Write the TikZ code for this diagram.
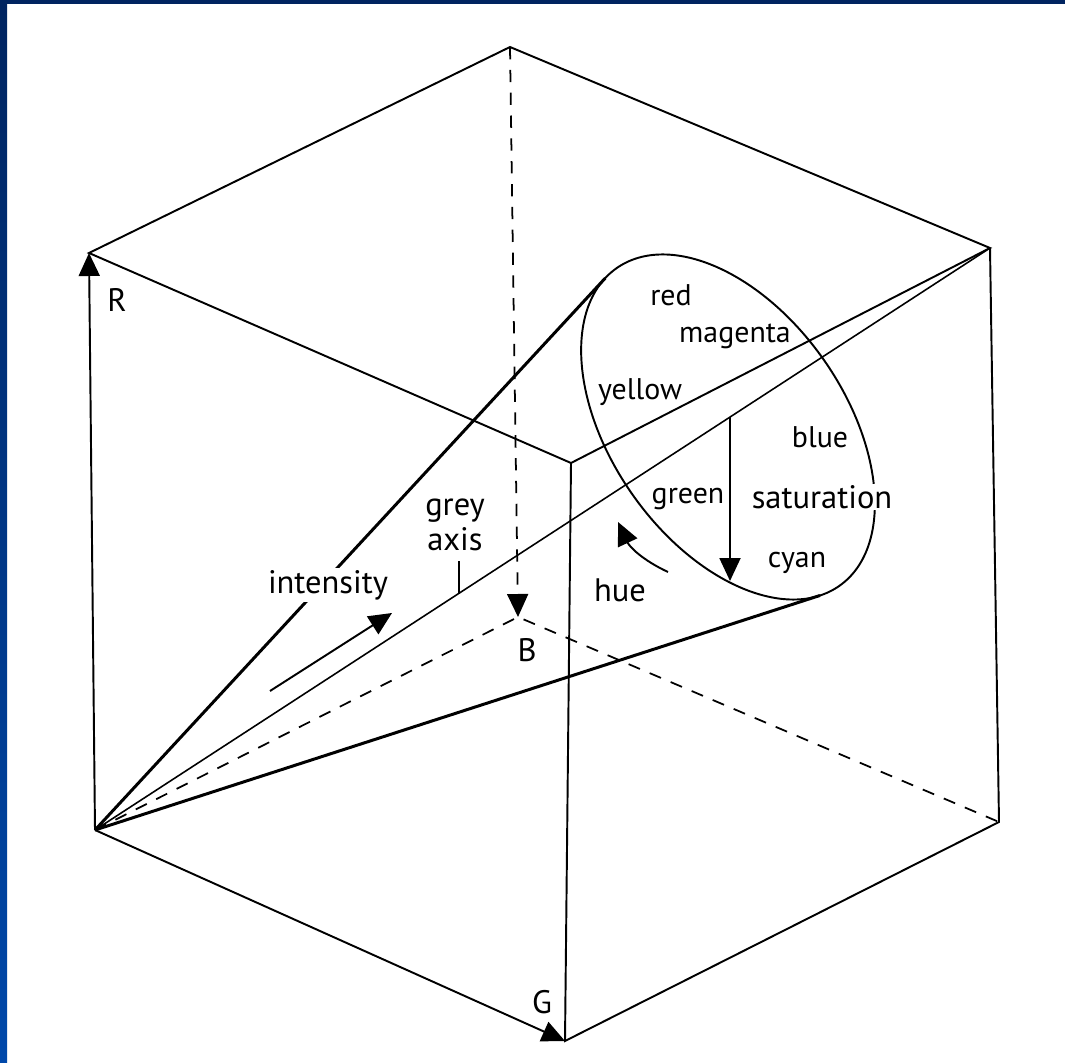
\documentclass[tikz,border=0pt]{standalone}
\usepackage{fontspec}
\setmainfont{PT Sans}
\usepackage{tikz}
\usetikzlibrary{arrows.meta, calc}

\definecolor{framenavy}{RGB}{0,36,96}
\definecolor{frameblue}{RGB}{0,72,170}

\begin{document}
\begin{tikzpicture}[
    x=0.02cm, y=0.02cm,
    every node/.style={font=\fontsize{18.5}{20}\selectfont, inner sep=1pt},
    colname/.style={font=\fontsize{17}{18}\selectfont},
    cubeedge/.style={line width=1.1pt},
    hidden/.style={line width=1pt, dash pattern=on 7pt off 6pt},
    cone/.style={line width=1.7pt},
    greyline/.style={line width=0.9pt},
    arr/.style={-{Triangle[length=4.6mm, width=4.2mm]}}
]
\useasboundingbox (0,0) rectangle (1065,1062);

% frame
\fill[framenavy] (0,1058) rectangle (1065,1062);
\shade[top color=framenavy, bottom color=frameblue] (0,0) rectangle (7,1062);

% cube corners
\coordinate (O) at (95,232);
\coordinate (R) at (89,809);
\coordinate (G) at (565,21);
\coordinate (B) at (518,445);
\coordinate (RG) at (571,599);
\coordinate (RB) at (510,1015);
\coordinate (GB) at (999,240);
\coordinate (W) at (990,814);

% visible edges
\draw[cubeedge, arr] (O) -- (R);
\draw[cubeedge, arr] (O) -- (G);
\draw[cubeedge] (R) -- (RB) -- (W) -- (RG) -- cycle;
\draw[cubeedge] (RG) -- (G) -- (GB) -- (W);

% hidden edges
\draw[hidden, arr] (RB) -- (B);
\draw[hidden] (O) -- (B) -- (GB);

% grey axis
\draw[greyline] (O) -- (W);
\coordinate (gaxpt) at ($(O)!0.4067!(W)$);
\coordinate (satA) at ($(O)!0.7095!(W)$);

% hue circle and cone
\begin{scope}[shift={(728,635)}, rotate=-55]
  \draw[cubeedge] (0,0) ellipse [x radius=194, y radius=117];
  \coordinate (tanA) at (-172.6:194 and 117);
  \coordinate (tanB) at (-10.5:194 and 117);
\end{scope}
\coordinate (satB) at (730,481);
\draw[cone] (O) -- (tanA);
\draw[cone] (O) -- (tanB);

% arrows
\coordinate (intA) at (270,371);
\coordinate (intB) at (392,449);
\draw[cubeedge, arr] (intA) -- (intB);
\coordinate (hueA) at (668,490);
\coordinate (hueB) at (618,540);
\draw[cubeedge, arr] (hueA) to[bend left=20] (hueB);
\draw[cubeedge, arr] (satA) -- (satB);

% labels
\node (lblR) at (117,762) {R};
\node (lblB) at (527,412) {B};
\node (lblG) at (542,60) {G};
\node[fill=white] (intensity) at (328,477) {intensity};
\node[align=center] (greyaxis) at (455,537) {grey\\axis};
\draw[greyline] (gaxpt |- greyaxis.south) ++(0,-8) -- (gaxpt);
\node (hue) at (620,472) {hue};
\node[fill=white] (saturation) at (822,565) {saturation};
\node[colname] (red) at (671,767) {red};
\node[colname] (magenta) at (735,726) {magenta};
\node[colname] (yellow) at (640,670) {yellow};
\node[colname] (blue) at (820,625) {blue};
\node[colname] (green) at (688,563) {green};
\node[colname] (cyan) at (797,499) {cyan};

\end{tikzpicture}
\end{document}
